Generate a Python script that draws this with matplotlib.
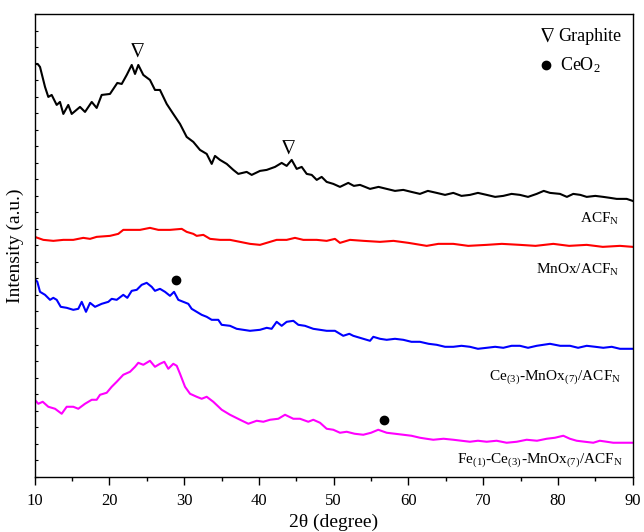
import numpy as np
import matplotlib
matplotlib.use("Agg")
import matplotlib.pyplot as plt

plt.rcParams["font.family"] = ["Liberation Serif", "DejaVu Serif"]
plt.rcParams["mathtext.fontset"] = "stix"

# XRD patterns, 2theta in degree, intensity in a.u. (curves stacked with offsets)
acf_2t = [10.0, 10.4, 10.71, 11.38, 11.82, 12.27, 12.94, 13.38, 13.83, 14.49, 14.95, 16.06, 16.73,
          17.63, 18.29, 18.96, 20.07, 21.05, 21.64, 22.31, 22.98, 23.42, 23.86, 24.53, 25.42,
          26.09, 26.76, 27.66, 28.54, 29.44, 30.33, 31.22, 32.11, 33.01, 33.68, 34.12, 34.79,
          35.69, 36.57, 37.24, 38.36, 39.03, 40.14, 41.04, 42.15, 43.04, 43.71, 44.38, 45.05,
          45.72, 46.39, 47.06, 47.73, 48.39, 49.06, 49.95, 50.84, 51.95, 52.7, 53.52, 54.2,
          54.86, 56.0, 57.09, 58.2, 59.31, 60.4, 61.54, 62.6, 63.78, 64.9, 66.0, 67.1, 68.23,
          69.3, 70.47, 71.6, 72.69, 73.8, 74.92, 76.0, 77.16, 78.1, 78.94, 80.28, 81.2, 82.05,
          83.0, 83.85, 85.0, 86.07, 87.0, 87.86, 89.2, 90.0]
acf_int = [413, 413, 410, 390, 380, 382, 372, 375, 363, 372, 363, 370, 365,
           375, 369, 382, 383, 394, 393, 402, 412, 403, 412, 402, 397,
           387, 387, 373, 363, 353, 340, 335, 327, 323, 313, 321, 317,
           313, 307, 303, 305, 302, 306, 307, 310, 314, 311, 317, 308,
           310, 303, 302, 297, 300, 295, 293, 290, 294, 291, 292, 290,
           288, 290, 288, 286, 287, 285, 283, 286, 284, 282, 284, 281, 282,
           284, 282, 280, 281, 283, 282, 280, 283, 286, 284, 283, 280, 283,
           282, 280, 281, 280, 279, 278, 278, 276]

mnox_2t = [10.0, 11.15, 12.49, 13.83, 15.16, 16.5, 17.4, 18.29, 20.07, 21.18, 21.85, 22.75,
           24.09, 25.42, 26.54, 27.2, 28.1, 29.67, 30.33, 31.22, 31.67, 32.56, 33.46, 34.79,
           36.13, 37.47, 38.8, 40.14, 41.48, 42.37, 43.71, 44.82, 45.93, 47.73, 49.06, 50.17,
           50.84, 52.18, 54.0, 56.19, 58.0, 60.0, 62.44, 64.0, 66.0, 68.0, 70.47, 72.5, 74.92,
           77.0, 79.38, 81.5, 83.85, 86.0, 88.3, 90.0]
mnox_int = [240, 237, 236, 237, 237, 239, 238, 240, 241, 243, 247, 247,
            247, 249, 247, 247, 247, 248, 245, 243, 241, 242, 238, 237,
            237, 235, 233, 232, 235, 237, 237, 239, 237, 237, 236, 238,
            234, 237, 236, 235, 236, 234, 231, 233, 233, 231, 232, 233, 232,
            231, 233, 231, 232, 230, 231, 230]

ce_2t = [10.0, 10.35, 10.71, 11.38, 12.05, 12.49, 12.94, 13.48, 14.28, 15.16, 15.83, 16.29,
         16.86, 17.4, 18.07, 18.96, 19.85, 20.3, 20.97, 21.85, 22.39, 22.98, 23.65, 24.31,
         24.98, 25.65, 26.09, 26.76, 27.43, 28.1, 28.64, 29.21, 29.88, 30.55, 31.0, 31.67,
         32.34, 33.01, 33.68, 34.56, 35.01, 36.13, 37.02, 37.91, 38.8, 40.14, 41.04, 41.7,
         42.37, 43.04, 43.71, 44.6, 45.27, 46.16, 47.27, 48.17, 49.06, 50.17, 51.28, 52.09,
         52.62, 53.96, 54.86, 55.3, 56.2, 57.09, 58.2, 59.31, 60.4, 61.54, 62.7, 63.78, 64.9,
         66.0, 67.1, 68.23, 69.3, 70.47, 71.6, 72.69, 73.8, 74.92, 76.0, 77.16, 78.94, 80.3,
         81.62, 82.7, 83.85, 85.0, 86.07, 87.2, 88.3, 90.0]
ce_int = [198, 195, 185, 182, 177, 179, 177, 170, 169, 167, 168, 175,
          165, 174, 170, 173, 175, 178, 177, 182, 179, 186, 187, 192,
          194, 190, 186, 188, 185, 181, 185, 177, 175, 173, 168, 165,
          162, 160, 157, 157, 152, 151, 148, 147, 146, 147, 149, 148,
          155, 151, 155, 156, 152, 151, 148, 147, 146, 146, 141, 143,
          141, 138, 136, 140, 138, 137, 138, 137, 135, 135, 133, 132, 130,
          130, 131, 130, 128, 129, 130, 129, 131, 131, 129, 131, 133, 131,
          131, 129, 131, 130, 129, 130, 128, 128]

fe_2t = [10.0, 10.48, 11.07, 11.82, 12.72, 13.61, 14.28, 15.16, 15.83, 16.73, 17.63, 18.29,
         18.74, 19.63, 20.3, 20.97, 21.85, 22.75, 23.42, 23.86, 24.53, 25.42, 26.09, 26.76,
         27.34, 27.87, 28.54, 29.0, 29.44, 30.11, 30.78, 31.67, 32.34, 33.01, 33.89, 35.02,
         36.13, 37.47, 38.58, 39.7, 40.59, 41.48, 42.59, 43.49, 44.6, 45.49, 46.6, 47.27,
         48.17, 49.06, 49.95, 50.84, 51.74, 52.8, 53.96, 55.0, 55.96, 57.09, 58.2, 59.31,
         60.4, 61.54, 62.4, 63.32, 64.7, 66.0, 67.1, 68.23, 69.3, 70.47, 71.8, 73.14, 74.5,
         75.82, 77.2, 78.5, 79.6, 80.72, 81.6, 82.51, 83.6, 84.73, 85.6, 86.52, 87.4, 88.3, 90.0]
fe_int = [77, 73, 75, 70, 68, 63, 70, 70, 68, 73, 77, 77,
          82, 84, 90, 95, 102, 105, 110, 114, 112, 116, 110, 113,
          115, 108, 113, 111, 103, 90, 83, 80, 78, 80, 75, 67,
          62, 57, 53, 56, 55, 57, 58, 62, 58, 58, 55, 57,
          54, 48, 47, 44, 45, 43, 42, 44, 47, 44, 43, 42,
          41, 39, 38, 37, 38, 37, 36, 35, 36, 35, 36, 34, 35,
          37, 36, 38, 39, 41, 38, 36, 35, 34, 36, 35, 34, 34, 34]

# phase markers: (2theta, intensity)
graphite_2t = [23.73, 43.93]
graphite_int = [425, 328]
ceo2_2t = [28.9, 56.72]
ceo2_int = [197, 57]

series = [
    (acf_2t, acf_int, "black", r"ACF$_\mathregular{N}$", 88.2, 254),
    (mnox_2t, mnox_int, "#ff0000", r"MnOx/ACF$_\mathregular{N}$", 88.2, 203),
    (ce_2t, ce_int, "#0000ff",
     r"Ce$_\mathregular{(3)}$-MnOx$_\mathregular{(7)}$/ACF$_\mathregular{N}$", 88.5, 97),
    (fe_2t, fe_int, "#ff00ff",
     r"Fe$_\mathregular{(1)}$-Ce$_\mathregular{(3)}$-MnOx$_\mathregular{(7)}$/ACF$_\mathregular{N}$", 88.7, 14),
]

fig = plt.figure(figsize=(6.44, 5.32), dpi=100)
ax = fig.add_axes([0.0539, 0.1039, 0.9285, 0.8698])

for x, y, color, label, label_x, label_y in series:
    ax.plot(x, y, color=color, lw=1.5)
    ax.text(label_x, label_y, label, ha="right", va="baseline", fontsize=11)

for x, y in zip(graphite_2t, graphite_int):
    ax.text(x, y, r"$\nabla$", ha="center", va="center", fontsize=15)
ax.plot(ceo2_2t, ceo2_int, "o", color="black", ms=6)

# legend drawn by hand
ax.text(78.5, 440, r"$\nabla$", ha="center", va="center", fontsize=15)
ax.text(80.1, 440, "Graphite", ha="left", va="center", fontsize=13)
ax.plot([78.4], [411.5], "o", color="black", ms=6)
ax.text(80.3, 411.5, r"CeO$_\mathregular{2}$", ha="left", va="center", fontsize=13)

ax.set_xlim(10, 90)
ax.set_ylim(0, 463)
ax.set_xticks(np.arange(10, 91, 10))
ax.set_xticks(np.arange(15, 90, 10), minor=True)
ax.set_yticks(np.linspace(0, 463, 29))
ax.set_yticklabels([])
ax.tick_params(axis="x", which="major", direction="out", length=6, width=1, labelsize=12, pad=6)
ax.tick_params(axis="x", which="minor", direction="out", length=3, width=1)
ax.tick_params(axis="y", direction="in", length=2, width=0.8)
for s in ax.spines.values():
    s.set_linewidth(1.0)

ax.set_xlabel("2θ (degree)", fontsize=14, labelpad=3)
ax.set_ylabel("Intensity (a.u.)", fontsize=14, labelpad=4)

fig.savefig("out.png", dpi=100)
